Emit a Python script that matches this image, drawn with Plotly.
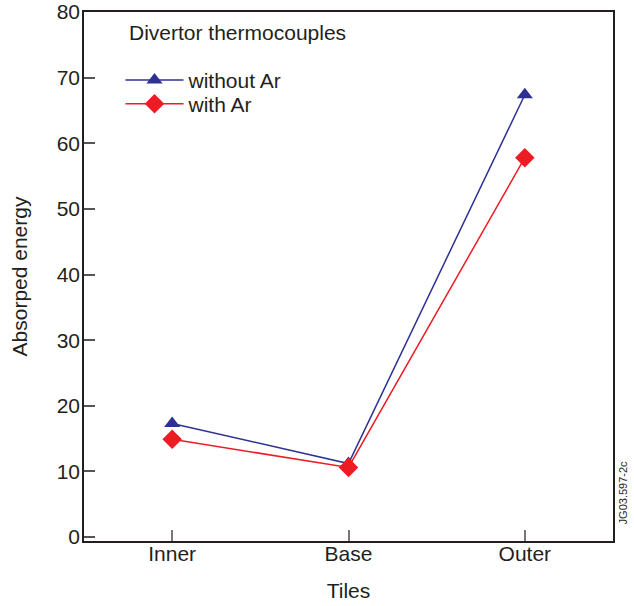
import plotly.graph_objects as go

tiles = ["Inner", "Base", "Outer"]
without_ar = [17.3, 11.2, 67.4]
with_ar = [14.9, 10.6, 57.8]
y_ticks = [0, 10, 20, 30, 40, 50, 60, 70, 80]

FONT = "Liberation Sans, Arial, Helvetica, sans-serif"
TXT = "#231F20"
BLUE = "#2E3192"
RED = "#ED1C24"

fig = go.Figure()
fig.add_trace(go.Scatter(
    x=[0, 1, 2], y=without_ar, mode="lines+markers", name="without Ar",
    line=dict(color=BLUE, width=1.5),
    marker=dict(symbol="triangle-up", size=14, color=BLUE),
    legend="legend",
))
fig.add_trace(go.Scatter(
    x=[0, 1, 2], y=with_ar, mode="lines+markers", name="with Ar",
    line=dict(color=RED, width=1.5),
    marker=dict(symbol="diamond", size=15, color=RED),
    legend="legend2",
))

leg_common = dict(xanchor="left", yanchor="middle", bgcolor="rgba(0,0,0,0)",
                  font=dict(size=21, color=TXT), itemwidth=58)

fig.update_layout(
    width=634, height=606,
    margin=dict(l=84, r=21, t=12, b=65),
    paper_bgcolor="white", plot_bgcolor="white",
    font=dict(family=FONT, size=21, color=TXT),
    showlegend=True,
    legend=dict(x=0.069, y=0.871, **leg_common),
    legend2=dict(x=0.069, y=0.826, **leg_common),
    xaxis=dict(
        range=[-0.5, 2.5], tickvals=[0, 1, 2], ticktext=tiles,
        showgrid=False, zeroline=False, automargin=False,
        showline=True, mirror=True, linecolor=TXT, linewidth=1.5,
        ticks="inside", ticklen=11, tickcolor="#777", tickwidth=1.5,
        ticklabelstandoff=-7,
        title=dict(text="Tiles", standoff=19, font=dict(size=21)),
        tickfont=dict(size=21),
    ),
    yaxis=dict(
        range=[-0.6, 80], tickvals=y_ticks,
        showgrid=False, zeroline=False, automargin=False,
        showline=True, mirror=True, linecolor=TXT, linewidth=1.5,
        ticks="inside", ticklen=11, tickcolor="#555", tickwidth=1.5,
        ticklabelstandoff=-2,
        title=dict(text="Absorped energy", standoff=23, font=dict(size=21)),
        tickfont=dict(size=21),
    ),
    annotations=[
        dict(text="Divertor thermocouples", xref="paper", yref="paper",
             x=0.082, y=0.962, xanchor="left", yanchor="middle",
             showarrow=False, font=dict(size=21, color=TXT)),
        dict(text="JG03.597-2c", xref="paper", yref="paper",
             x=1.0, y=0.09, xanchor="left", yanchor="middle", xshift=2,
             textangle=-90, showarrow=False, font=dict(size=11, color=TXT)),
    ],
)

fig.write_html("out.html")
